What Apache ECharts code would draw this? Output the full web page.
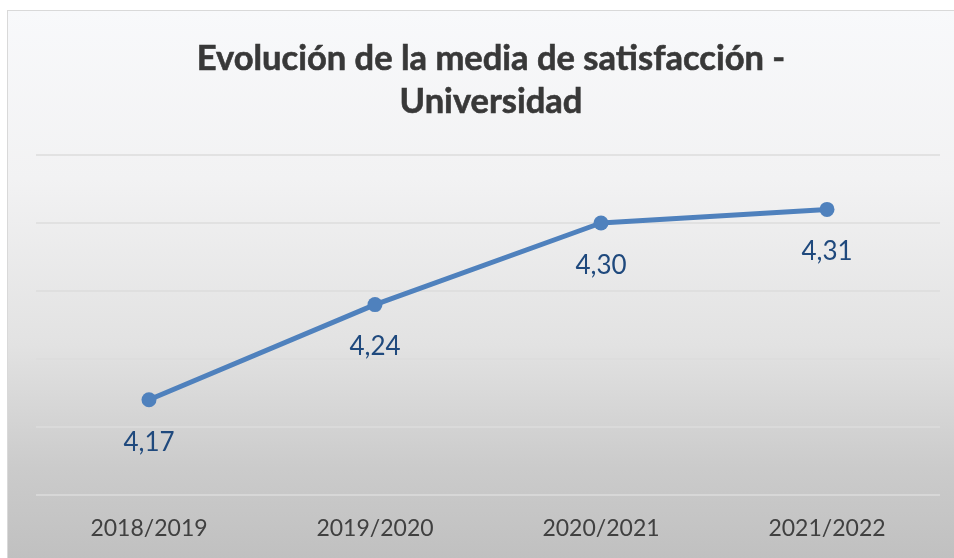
<!DOCTYPE html>
<html><head><meta charset="utf-8">
<script src="https://cdn.jsdelivr.net/npm/echarts@6/dist/echarts.min.js"></script>
<style>
html,body{margin:0;padding:0;background:#fff;width:954px;height:558px;overflow:hidden}
#frame{position:absolute;left:7px;top:10px;width:960px;height:560px;box-sizing:border-box;border:1.5px solid #d9d9d9;
background:linear-gradient(to bottom,#f8f9fb 0%,#f2f2f3 30%,#e2e2e2 60%,#cbcbcb 82%,#bfbfbf 100%);}
#main{position:absolute;left:0;top:0;width:954px;height:558px}
</style></head>
<body>
<div id="frame"></div>
<div id="main"></div>
<script>
const categories = ['2018/2019','2019/2020','2020/2021','2021/2022'];
const values = [4.17, 4.24, 4.30, 4.31];
const titleLines = ['Evolución de la media de satisfacción -','Universidad'];

const chart = echarts.init(document.getElementById('main'));
chart.setOption({
  backgroundColor: 'transparent',
  title: {
    text: titleLines.join('\n'),
    left: 486, top: 32, textAlign: 'center',
    textStyle: {fontFamily: 'Lato', fontWeight: 'bold', fontSize: 34.5, color: '#383838', lineHeight: 43,
      textBorderColor: '#383838', textBorderWidth: 0.6}
  },
  grid: {left: 36, right: 14, top: 155, bottom: 63},
  xAxis: {
    type: 'category', data: categories, boundaryGap: true,
    axisLine: {show: false}, axisTick: {show: false},
    axisLabel: {fontFamily: 'Lato', fontSize: 23, color: '#404040', margin: 22}
  },
  yAxis: {
    type: 'value', min: 4.10, max: 4.35, interval: 0.05,
    axisLabel: {show: false}, axisLine: {show: false}, axisTick: {show: false},
    splitLine: {lineStyle: {color: '#dcdcdc', width: 1.5}}
  },
  series: [{
    type: 'line', data: values,
    lineStyle: {color: '#4f81bd', width: 5},
    itemStyle: {color: '#4f81bd'},
    symbol: 'circle', symbolSize: 15,
    label: {
      show: true, position: 'bottom', distance: 22,
      formatter: p => p.value.toFixed(2).replace('.', ','),
      fontFamily: 'Lato', fontSize: 26, color: '#1f497d'
    }
  }]
});
</script>
</body></html>
